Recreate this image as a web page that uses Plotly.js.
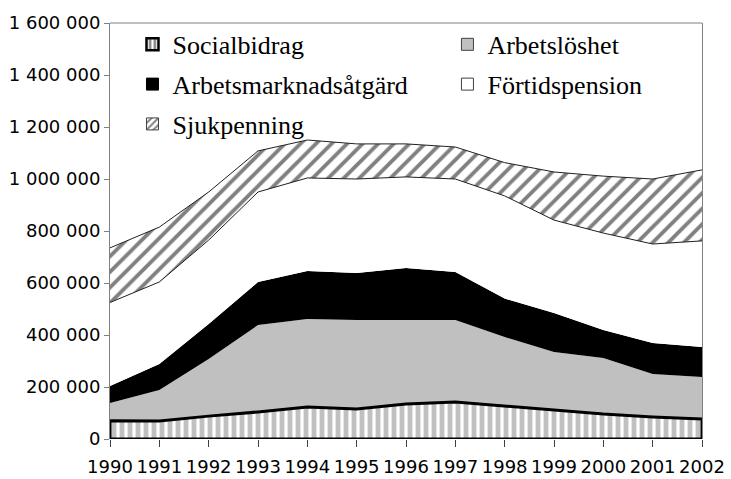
<!DOCTYPE html>
<html>
<head>
<meta charset="utf-8">
<script src="https://cdn.plot.ly/plotly-3.0.1.min.js"></script>
<style>
  html, body { margin: 0; padding: 0; background: #fff; }
  #chart { width: 731px; height: 479px; }
</style>
</head>
<body>
<div id="chart"></div>
<script>
/* ── data (antal personer, helårsekvivalenter) ── */
const YEARS = [1990, 1991, 1992, 1993, 1994, 1995, 1996, 1997, 1998, 1999, 2000, 2001, 2002];

const SOCIALBIDRAG   = [70000, 69000, 88000, 104000, 123000, 115000, 135000, 142000, 127000, 112000, 96000, 85000, 77000];
const ARBETSLOSHET   = [68000, 119000, 220000, 334000, 339000, 343000, 323000, 316000, 265000, 223000, 216000, 165000, 161000];
const ATGARD         = [66000, 100000, 134000, 166000, 184000, 180000, 200000, 184000, 148000, 150000, 107000, 119000, 116000];
const FORTIDSPENSION = [321000, 316000, 323000, 346000, 358000, 362000, 350000, 358000, 395000, 357000, 373000, 381000, 408000];
const SJUKPENNING    = [210000, 211000, 185000, 158000, 146000, 135000, 127000, 123000, 128000, 185000, 219000, 250000, 273000];

const NAMES = ['Socialbidrag', 'Arbetslöshet', 'Arbetsmarknadsåtgärd', 'Förtidspension', 'Sjukpenning'];

/* ── styles ── */
const GREY_LT = '#c0c0c0';
const GREY_DK = '#808080';
const TICKFONT = { family: 'DejaVu Sans', size: 18, color: '#000' };

const STRIPE_V = { shape: '|', fgcolor: GREY_LT, bgcolor: '#fff', size: 8, solidity: 0.6 };
const STRIPE_D = { shape: '/', fgcolor: GREY_DK, bgcolor: '#fff', size: 11, solidity: 0.35 };

/* stacked areas */
const area = (y, name, extra) => Object.assign({
  x: YEARS, y: y, name: name,
  type: 'scatter', mode: 'lines', stackgroup: 'one',
  line: { width: 0, color: '#000' },
  showlegend: false, hoverinfo: 'x+y+name'
}, extra);

const traces = [
  area(SOCIALBIDRAG,   NAMES[0], { fillcolor: '#fff', fillpattern: STRIPE_V }),
  area(ARBETSLOSHET,   NAMES[1], { fillcolor: GREY_LT }),
  area(ATGARD,         NAMES[2], { fillcolor: '#000' }),
  area(FORTIDSPENSION, NAMES[3], { fillcolor: '#fff', line: { width: 1, color: '#202020' } }),
  area(SJUKPENNING,    NAMES[4], { fillcolor: '#fff', fillpattern: STRIPE_D, line: { width: 1, color: '#202020' } })
];

// thick outline round the Socialbidrag band
const n = YEARS.length;
traces.push({
  x: [YEARS[0], ...YEARS, YEARS[n - 1], YEARS[0]],
  y: [0, ...SOCIALBIDRAG, 0, 0],
  type: 'scatter', mode: 'lines',
  line: { color: '#000', width: 3 },
  cliponaxis: false, showlegend: false, hoverinfo: 'skip'
});

/* legend boxes (two columns, like the original) */
const key = (name, legend, marker) => ({
  x: [null], y: [null], type: 'bar', name: name,
  legend: legend, legendgroup: name, marker: marker, hoverinfo: 'skip'
});
traces.push(
  key(NAMES[0], 'legend',  { color: '#fff', pattern: { shape: '|', fgcolor: GREY_DK, bgcolor: '#fff', size: 6, solidity: 0.5 }, line: { color: '#000', width: 2.5 } }),
  key(NAMES[2], 'legend',  { color: '#000', line: { color: '#000', width: 1 } }),
  key(NAMES[4], 'legend',  { color: '#fff', pattern: { shape: '/', fgcolor: GREY_DK, bgcolor: '#fff', size: 6, solidity: 0.4 }, line: { color: '#404040', width: 1 } }),
  key(NAMES[1], 'legend2', { color: GREY_LT, line: { color: '#404040', width: 1 } }),
  key(NAMES[3], 'legend2', { color: '#fff', line: { color: '#404040', width: 1 } })
);

const LEG = {
  orientation: 'v', bgcolor: 'rgba(0,0,0,0)', borderwidth: 0,
  font: { family: 'Liberation Serif', size: 26, color: '#000' },
  tracegroupgap: 3, yanchor: 'top', y: 1.005, xanchor: 'left'
};

const layout = {
  width: 731, height: 479,
  margin: { l: 110, r: 29, t: 23, b: 40 },
  paper_bgcolor: '#fff', plot_bgcolor: '#fff',
  separators: ', ',
  showlegend: true,
  legend:  Object.assign({}, LEG, { x: 0.038 }),
  legend2: Object.assign({}, LEG, { x: 0.570 }),
  xaxis: {
    range: [YEARS[0], YEARS[n - 1]], tickvals: YEARS, ticktext: YEARS.map(String),
    showgrid: false, zeroline: false, showline: false,
    ticks: 'outside', ticklen: 7, tickcolor: '#404040', tickwidth: 1,
    ticklabelstandoff: 4,
    tickfont: TICKFONT, fixedrange: true
  },
  yaxis: {
    range: [0, 1600000], dtick: 200000, tickformat: ',d',
    showgrid: false, zeroline: false,
    showline: true, linecolor: GREY_DK, linewidth: 1, mirror: true,
    ticks: 'outside', ticklen: 5, tickcolor: GREY_DK,
    tickfont: TICKFONT, fixedrange: true
  },
  shapes: [{
    type: 'line', xref: 'paper', yref: 'paper', x0: 0, x1: 1, y0: 1, y1: 1,
    line: { color: GREY_DK, width: 1 }
  }]
};

Plotly.newPlot('chart', traces, layout, { displayModeBar: false, staticPlot: true });
</script>
</body>
</html>
